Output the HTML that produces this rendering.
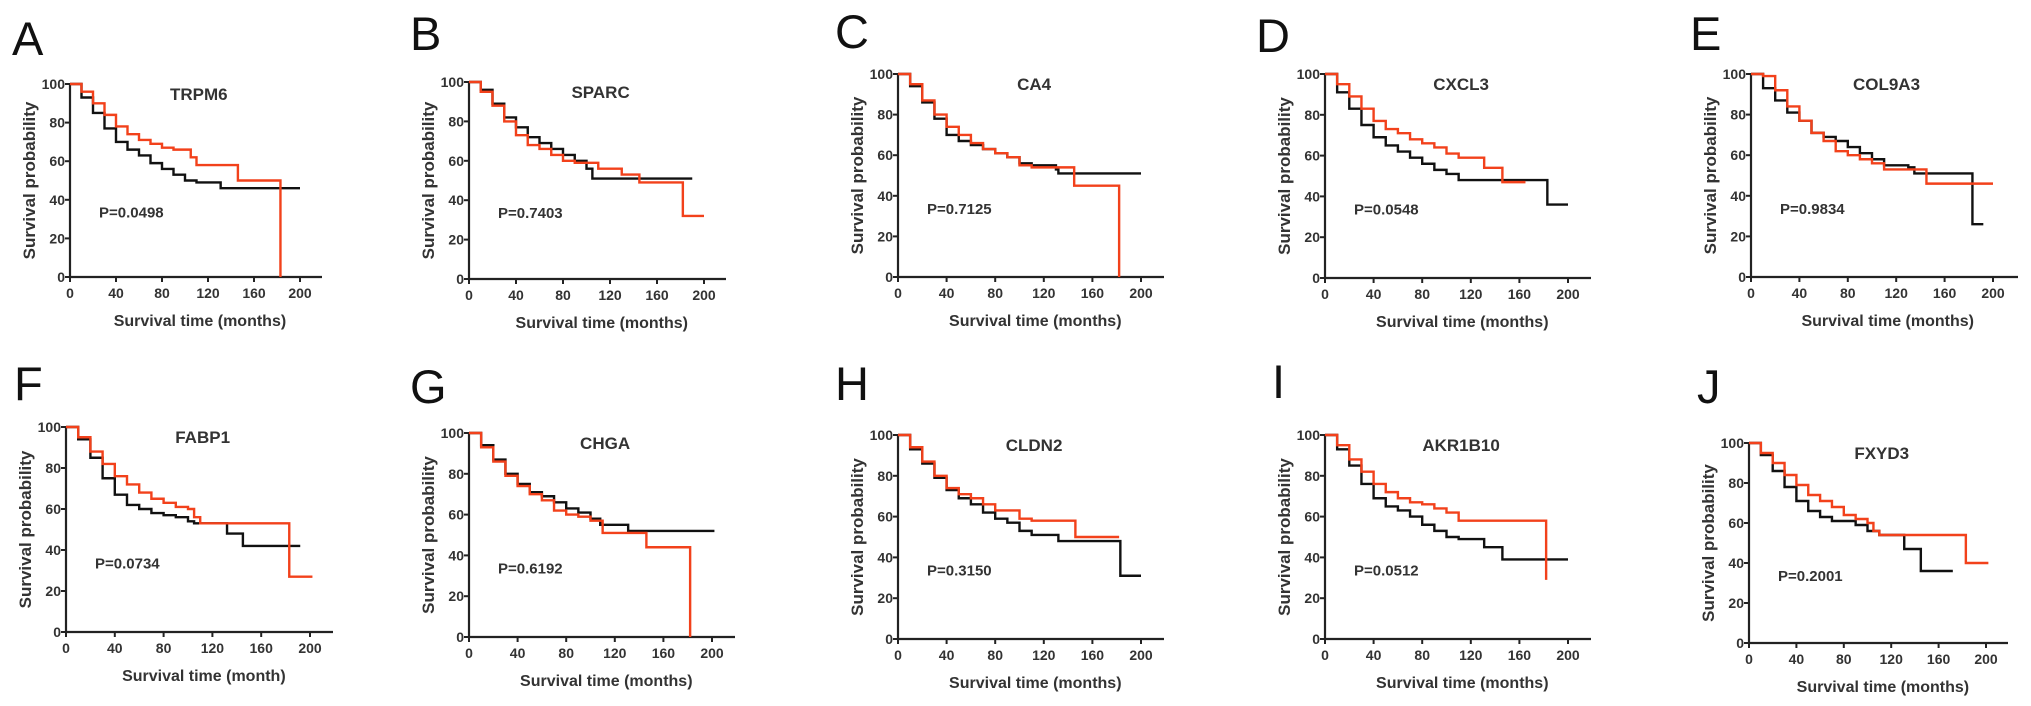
<!DOCTYPE html>
<html><head><meta charset="utf-8"><style>
html,body{margin:0;padding:0;background:#fff;}
svg{display:block;font-family:"Liberation Sans",Arial,sans-serif;}
</style></head><body>
<svg id="fig" width="2031" height="706" viewBox="0 0 2031 706" xmlns="http://www.w3.org/2000/svg"></svg>
<script>
const panelLetters = ["A","B","C","D","E","F","G","H","I","J"];
const geneNames = ["TRPM6","SPARC","CA4","CXCL3","COL9A3","FABP1","CHGA","CLDN2","AKR1B10","FXYD3"];
const pValues = ["P=0.0498","P=0.7403","P=0.7125","P=0.0548","P=0.9834","P=0.0734","P=0.6192","P=0.3150","P=0.0512","P=0.2001"];
const xTitles = ["Survival time (months)","Survival time (months)","Survival time (months)","Survival time (months)","Survival time (months)","Survival time (month)","Survival time (months)","Survival time (months)","Survival time (months)","Survival time (months)"];
const xTicks = [0,40,80,120,160,200];
const yTicks = [0,20,40,60,80,100];

const redA = [[0,100],[10,96],[20,90],[30,84],[40,78],[50,74],[60,71],[70,69],[80,67],[90,66],[100,66],[105,62],[110,58],[145,58],[146,50],[183,50],[183,0]];
const blackA = [[0,100],[10,93],[20,85],[30,77],[40,70],[50,66],[60,63],[70,59],[80,56],[90,53],[100,50],[110,49],[130,49],[131,46],[200,46]];
const redB = [[0,100],[10,95],[20,88],[30,80],[40,73],[50,68],[60,66],[70,63],[80,60],[90,59],[100,59],[110,56],[130,53],[145,49],[182,49],[182,32],[200,32]];
const blackB = [[0,100],[10,96],[20,89],[30,82],[40,77],[50,72],[60,69],[70,66],[80,63],[90,60],[100,56],[105,51],[190,51]];
const redC = [[0,100],[10,95],[20,87],[30,80],[40,74],[50,70],[60,66],[70,63],[80,61],[90,59],[100,55],[110,54],[140,54],[145,45],[182,45],[182,0]];
const blackC = [[0,100],[10,94],[20,86],[30,78],[40,70],[50,67],[60,65],[70,63],[80,61],[90,59],[100,56],[110,55],[130,53],[132,51],[200,51]];
const redD = [[0,100],[10,95],[20,89],[30,83],[40,77],[50,73],[60,71],[70,68],[80,66],[90,64],[100,61],[110,59],[130,59],[131,54],[145,54],[146,47],[165,47]];
const blackD = [[0,100],[10,91],[20,83],[30,75],[40,69],[50,65],[60,62],[70,59],[80,56],[90,53],[100,51],[110,48],[182,48],[183,36],[200,36]];
const redE = [[0,100],[10,99],[20,92],[30,84],[40,77],[50,71],[60,67],[70,62],[80,60],[90,58],[100,56],[110,53],[140,53],[145,46],[200,46]];
const blackE = [[0,100],[10,93],[20,87],[30,81],[40,77],[50,71],[60,69],[70,67],[80,64],[90,61],[100,58],[110,55],[130,54],[135,51],[182,51],[183,26],[192,26]];
const redF = [[0,100],[10,95],[20,88],[30,82],[40,76],[50,72],[60,68],[70,65],[80,63],[90,61],[100,60],[105,56],[110,53],[183,53],[183,27],[202,27]];
const blackF = [[0,100],[10,94],[20,85],[30,75],[40,67],[50,62],[60,60],[70,58],[80,57],[90,56],[100,54],[105,53],[130,53],[132,48],[144,48],[145,42],[192,42]];
const redG = [[0,100],[10,93],[20,86],[30,79],[40,74],[50,70],[60,67],[70,62],[80,60],[90,59],[100,57],[110,51],[145,51],[146,44],[182,44],[182,0]];
const blackG = [[0,100],[10,94],[20,87],[30,80],[40,75],[50,71],[60,69],[70,66],[80,63],[90,61],[100,58],[108,55],[130,55],[131,52],[202,52]];
const redH = [[0,100],[10,94],[20,87],[30,80],[40,74],[50,71],[60,69],[70,66],[80,63],[90,63],[100,59],[110,58],[145,58],[146,50],[182,50]];
const blackH = [[0,100],[10,93],[20,86],[30,79],[40,73],[50,69],[60,66],[70,62],[80,59],[90,57],[100,53],[110,51],[130,51],[132,48],[182,48],[183,31],[200,31]];
const redI = [[0,100],[10,95],[20,88],[30,82],[40,76],[50,72],[60,69],[70,67],[80,66],[90,64],[100,62],[110,58],[182,58],[182,29]];
const blackI = [[0,100],[10,93],[20,85],[30,76],[40,69],[50,65],[60,63],[70,60],[80,56],[90,53],[100,50],[110,49],[130,49],[131,45],[145,45],[146,39],[200,39]];
const redJ = [[0,100],[10,95],[20,90],[30,84],[40,79],[50,74],[60,71],[70,68],[80,64],[90,62],[100,60],[105,56],[110,54],[183,54],[183,40],[202,40]];
const blackJ = [[0,100],[10,94],[20,86],[30,78],[40,71],[50,66],[60,63],[70,61],[80,61],[90,59],[100,56],[110,54],[130,54],[131,47],[144,47],[145,36],[172,36]];

const redSeries = [redA,redB,redC,redD,redE,redF,redG,redH,redI,redJ];
const blackSeries = [blackA,blackB,blackC,blackD,blackE,blackF,blackG,blackH,blackI,blackJ];

const layout = [
 [70,300,322,277,84,12,55],[469,704,726,279,82,410,50],[898,1141,1164,277,74,835,48],[1325,1568,1591,278,74,1256,52],[1751,1993,2018,277,74,1690,50],
 [66,310,333,632,427,14,400],[469,712,735,637,433,410,403],[898,1141,1164,639,435,835,400],[1325,1568,1591,639,435,1272,398],[1749,1986,2008,643,443,1697,403]
];
const NS="http://www.w3.org/2000/svg";
const svg=document.getElementById('fig');
function mk(tag,attrs,parent){const e=document.createElementNS(NS,tag);for(const k in attrs)e.setAttribute(k,attrs[k]);(parent||svg).appendChild(e);return e;}

panelLetters.forEach((L,i)=>{
  const [ox,x2,xe,by,ty,lx,ly]=layout[i];
  const sx=v=>ox+(x2-ox)*v/200;
  const sy=v=>by-(by-ty)*v/100;
  const g=mk('g',{});
  
  
  const lt=mk('text',{x:lx,y:ly,'font-size':47,fill:'#111'},g);lt.textContent=L;
  
  
  const ax=mk('path',{d:`M${ox},${ty} V${by} H${xe}`,stroke:'#222','stroke-width':2.2,fill:'none'},g);
  
  
  yTicks.forEach(v=>{
    mk('line',{x1:ox-5,x2:ox,y1:sy(v),y2:sy(v),stroke:'#222','stroke-width':2},g);
    const t=mk('text',{x:ox-5,y:sy(v)+5,'font-size':14,'font-weight':'bold','text-anchor':'end',fill:'#333'},g);t.textContent=v;
    
    
  });
  xTicks.forEach(v=>{
    mk('line',{x1:sx(v),x2:sx(v),y1:by,y2:by+5,stroke:'#222','stroke-width':2},g);
    const t=mk('text',{x:sx(v),y:by+21,'font-size':14,'font-weight':'bold','text-anchor':'middle',fill:'#333'},g);t.textContent=v;
    
    
  });
  const xt=mk('text',{x:sx(113),y:by+49,'font-size':16,'font-weight':'bold','text-anchor':'middle',fill:'#333'},g);xt.textContent=xTitles[i];
  
  
  const cy=(by+ty)/2;
  const yt=mk('text',{x:ox-35,y:cy,'font-size':17,'font-weight':'bold','text-anchor':'middle',fill:'#333',transform:`rotate(-90 ${ox-35} ${cy})`},g);yt.textContent='Survival probability';
  
  
  const tt=mk('text',{x:sx(112),y:ty+16,'font-size':17,'font-weight':'bold','text-anchor':'middle',fill:'#333'},g);tt.textContent=geneNames[i];
  
  
  const pt=mk('text',{x:ox+29,y:sy(34)+6,'font-size':15,'font-weight':'bold',fill:'#333'},g);pt.textContent=pValues[i];
  
  
  [[blackSeries[i],'#111','black-curve'],[redSeries[i],'#f2411b','red-curve']].forEach(([s,c,n])=>{
    let d=`M${sx(s[0][0])},${sy(s[0][1])}`;
    for(let k=1;k<s.length;k++){d+=` H${sx(s[k][0])} V${sy(s[k][1])}`;}
    const p=mk('path',{d:d,stroke:c,'stroke-width':2.4,fill:'none'},g);
    
    
  });
});
</script>
</body></html>
